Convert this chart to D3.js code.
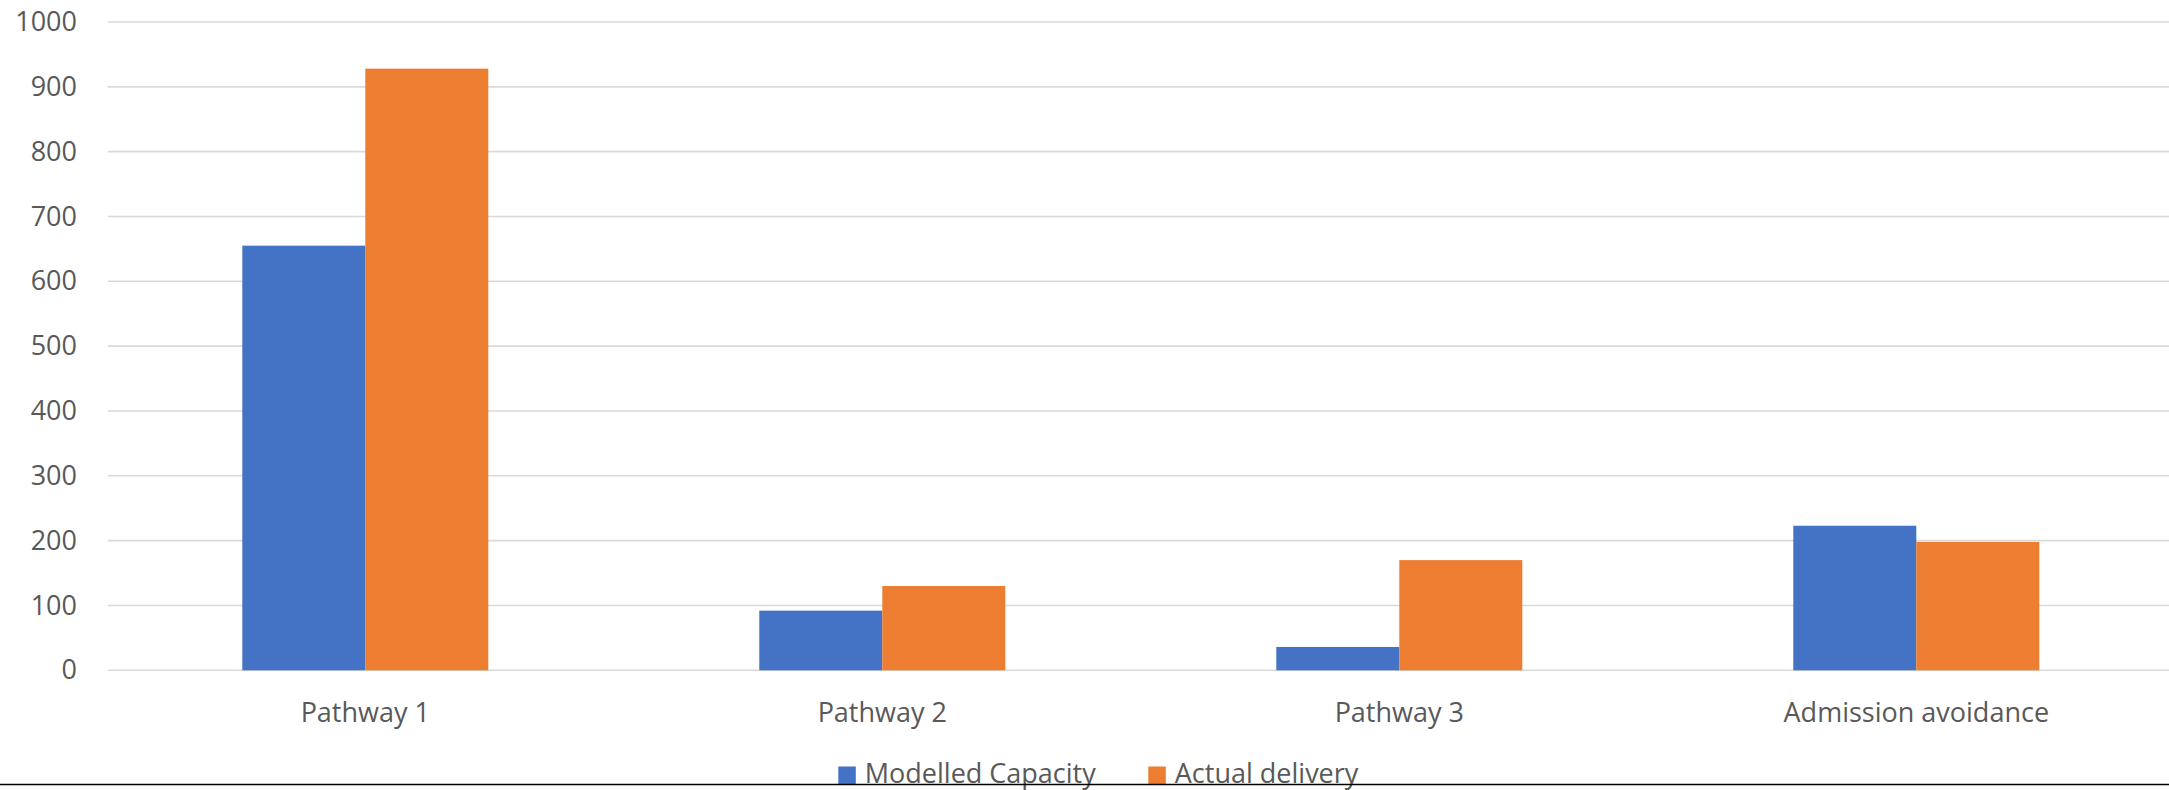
<!DOCTYPE html>
<html>
<head>
<meta charset="utf-8">
<script src="https://cdn.jsdelivr.net/npm/d3@7"></script>
<style>
  html, body { margin: 0; padding: 0; background: #fff; }
  svg { display: block; }
  text { font-family: "Open Sans", "Liberation Sans", sans-serif; fill: #595959; }
</style>
</head>
<body>
<script>
const categories = ["Pathway 1", "Pathway 2", "Pathway 3", "Admission avoidance"];
const seriesNames = ["Modelled Capacity", "Actual delivery"];
const modelledCapacity = [655, 92, 36, 223];
const actualDelivery = [928, 130, 170, 198];
const yTicks = [0, 100, 200, 300, 400, 500, 600, 700, 800, 900, 1000];
const colors = ["#4472C4", "#ED7D31"];

const W = 2169, H = 790;
const svg = d3.select("body").append("svg").attr("width", W).attr("height", H);

const x0 = d3.scaleBand().domain(categories).range([106.8, 2174.8]).paddingInner(0).paddingOuter(0);
const x1 = d3.scaleBand().domain(seriesNames).range([0, x0.bandwidth()]).paddingInner(0).paddingOuter(1.1016);
const y = d3.scaleLinear().domain([0, 1000]).range([670.3, 22]);

// y tick labels
const yAxis = d3.axisLeft(y).tickValues(yTicks).tickSize(0).tickPadding(0).tickFormat(d3.format("d"));
const gAxis = svg.append("g").attr("transform", "translate(77,0)").call(yAxis);
gAxis.select(".domain").remove();
gAxis.selectAll("text")
  .attr("x", 0)
  .style("font-size", "27px")
  .style("fill", "#595959")
  .style("font-family", "'Open Sans', 'Liberation Sans', sans-serif");

// gridlines
svg.append("g").selectAll("line").data(yTicks).join("line")
  .attr("x1", 107.7).attr("x2", W)
  .attr("y1", d => y(d)).attr("y2", d => y(d))
  .attr("stroke", "#d9d9d9").attr("stroke-width", 1.6);

// bars
const rows = categories.map((c, i) => ({ cat: c, vals: [modelledCapacity[i], actualDelivery[i]] }));
const groups = svg.append("g").selectAll("g").data(rows).join("g")
  .attr("transform", d => `translate(${x0(d.cat)},0)`);
groups.selectAll("rect").data(d => d.vals.map((v, j) => ({ name: seriesNames[j], v, j }))).join("rect")
  .attr("x", d => x1(d.name))
  .attr("width", x1.bandwidth())
  .attr("y", d => y(d.v))
  .attr("height", d => y(0) - y(d.v))
  .attr("fill", d => colors[d.j]);

// category labels
const xAxis = d3.axisBottom(x0).tickSize(0).tickPadding(0);
const gx = svg.append("g").call(xAxis);
gx.select(".domain").remove();
gx.selectAll("text")
  .attr("y", 722.3).attr("dy", 0)
  .style("font-size", "27px")
  .style("fill", "#595959")
  .style("font-family", "'Open Sans', 'Liberation Sans', sans-serif");

// legend
const legendX = [838.3, 1148.3];
const lg = svg.append("g");
seriesNames.forEach((n, i) => {
  lg.append("rect").attr("x", legendX[i]).attr("y", 766.5).attr("width", 17.5).attr("height", 17.5).attr("fill", colors[i]);
  lg.append("text").attr("x", legendX[i] + 26.5).attr("y", 782.5).text(n)
    .style("font-size", "27px");
});

// bottom border line
svg.append("line").attr("x1", 0).attr("x2", W).attr("y1", 784.6).attr("y2", 784.6)
  .attr("stroke", "#000").attr("stroke-width", 1.5);
</script>
</body>
</html>
